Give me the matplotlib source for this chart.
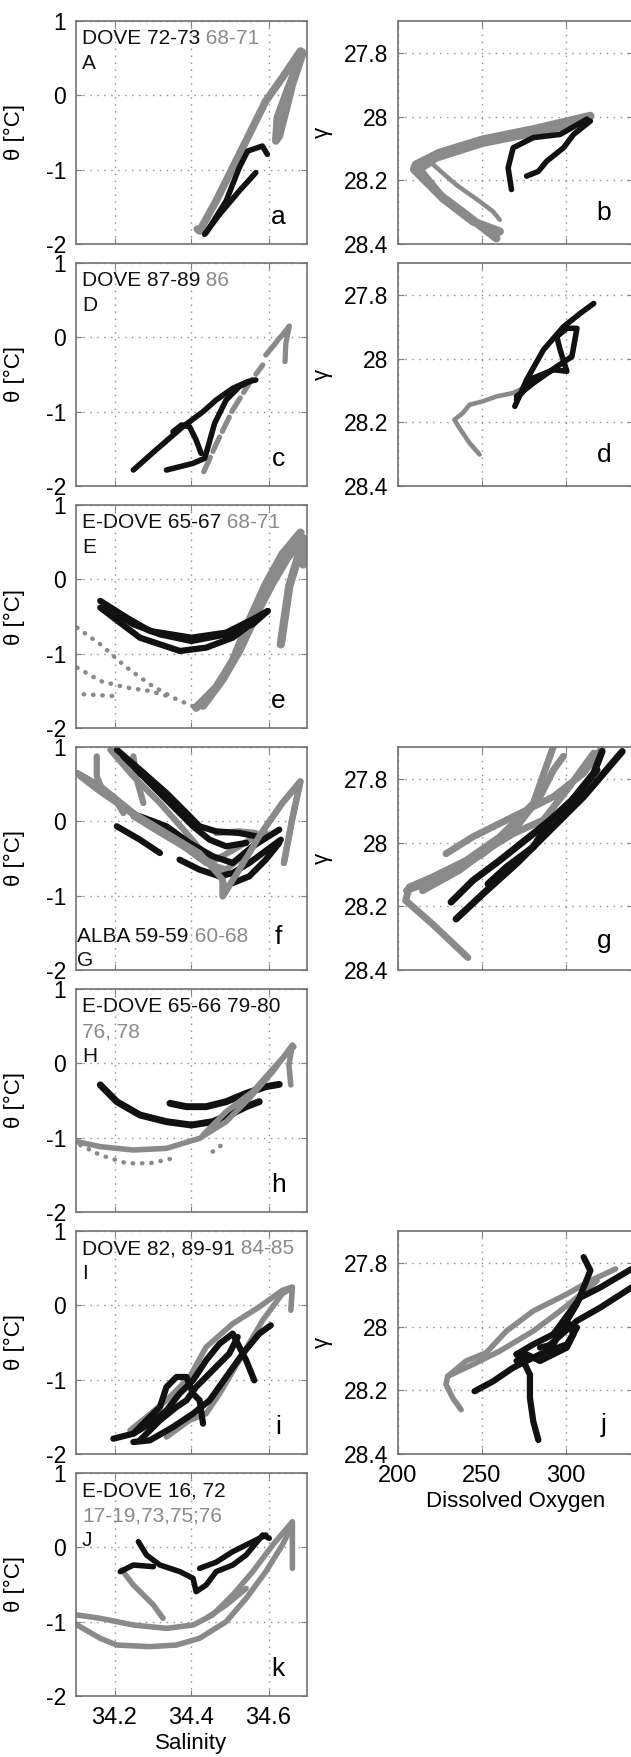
import numpy as np
import matplotlib
matplotlib.use('Agg')
from matplotlib import pyplot as plt

plt.rcParams['font.family'] = ['Liberation Sans', 'DejaVu Sans']
plt.rcParams['axes.unicode_minus'] = False

BLACK = '#111111'
GRAY = '#8a8a8a'

# ---- data: (salinity, theta) or (oxygen, gamma) traces ----
# panel a
a_black = [([34.434, 34.473, 34.524, 34.567], [-1.87, -1.6, -1.287, -1.04]),
           ([34.438, 34.490, 34.524, 34.546, 34.584, 34.597], [-1.85, -1.42, -0.973, -0.749, -0.682, -0.794])]
a_gray = [([34.415, 34.421, 34.464, 34.507, 34.550, 34.593, 34.636, 34.683, 34.688, 34.662, 34.645, 34.628, 34.619, 34.623, 34.645, 34.675, 34.688],
           [-1.80, -1.825, -1.42, -0.973, -0.525, -0.076, 0.238, 0.596, 0.55, 0.148, -0.21, -0.55, -0.614, -0.30, 0.013, 0.417, 0.58])]
# panel b
b_black = [([312.6, 296.6, 280.6, 268.6, 265.6, 267.6], [28.008, 28.056, 28.066, 28.098, 28.161, 28.229]),
           ([314.6, 304.6, 298.6, 288.6, 283.6, 276.6], [28.014, 28.056, 28.098, 28.14, 28.172, 28.187])]
b_gray = [([314.6, 280.6, 250.6, 224.6, 210.6, 209.6, 224.6, 240.6, 258.6],
           [27.998, 28.04, 28.072, 28.114, 28.151, 28.166, 28.245, 28.308, 28.382]),
          ([312.6, 280.6, 250.6, 222.6, 212.6, 226.6, 244.6, 260.6],
           [28.014, 28.051, 28.082, 28.129, 28.166, 28.256, 28.329, 28.361])]
b_gray_thin = [([218.6, 234.6, 248.6, 256.6, 260.6], [28.14, 28.214, 28.266, 28.298, 28.324])]
# panel c
c_black = [([34.249, 34.30, 34.378, 34.43, 34.464, 34.507, 34.546, 34.567], [-1.785, -1.55, -1.20, -1.0, -0.843, -0.686, -0.596, -0.574]),
           ([34.335, 34.370, 34.404, 34.434, 34.443, 34.460, 34.490, 34.524, 34.550], [-1.785, -1.74, -1.695, -1.628, -1.471, -1.157, -0.843, -0.664, -0.596]),
           ([34.352, 34.374, 34.395, 34.412, 34.425], [-1.269, -1.179, -1.202, -1.381, -1.561])]
c_gray_dash = [([34.432, 34.465, 34.507, 34.550, 34.585], [-1.807, -1.426, -0.978, -0.619, -0.372])]
c_gray = [([34.593, 34.611, 34.628, 34.636, 34.654, 34.645, 34.643], [-0.238, -0.126, -0.013, 0.031, 0.152, -0.081, -0.327])]
# panel d
d_black = [([269.6, 276.6, 286.6, 298.6, 308.6, 316.6], [28.15, 28.067, 27.973, 27.9, 27.858, 27.827]),
           ([270.6, 280.6, 292.6, 300.6, 296.6, 294.6, 300.6, 306.6, 303.6, 294.6, 280.6, 270.6],
            [28.129, 28.061, 28.035, 28.04, 27.973, 27.931, 27.905, 27.905, 27.994, 28.025, 28.077, 28.119])]
d_gray = [([302.6, 292.6, 280.6, 268.6, 258.6, 250.6, 242.6, 238.6, 233.6, 236.6, 242.6, 248.6],
           [27.994, 28.035, 28.077, 28.108, 28.119, 28.134, 28.145, 28.171, 28.192, 28.218, 28.265, 28.301])]
# panel e
e_black = [([34.163, 34.232, 34.292, 34.4, 34.49, 34.559, 34.598], [-0.29, -0.516, -0.695, -0.785, -0.717, -0.538, -0.426]),
           ([34.163, 34.266, 34.37, 34.438, 34.507, 34.542], [-0.381, -0.785, -0.964, -0.919, -0.785, -0.65]),
           ([34.172, 34.249, 34.318, 34.4, 34.49, 34.559, 34.598], [-0.359, -0.605, -0.74, -0.83, -0.74, -0.605, -0.426])]
e_gray = [([34.412, 34.464, 34.507, 34.55, 34.593, 34.636, 34.683, 34.679, 34.654, 34.632],
           [-1.726, -1.457, -1.099, -0.56, -0.067, 0.336, 0.628, 0.336, -0.09, -0.874]),
          ([34.43, 34.48, 34.525, 34.57, 34.61, 34.65, 34.69, 34.69],
           [-1.70, -1.35, -0.95, -0.45, -0.05, 0.30, 0.55, 0.20])]
e_gray_dots = [([34.103, 34.163, 34.232, 34.292, 34.352, 34.412], [-0.65, -0.874, -1.188, -1.413, -1.592, -1.726]),
               ([34.103, 34.163, 34.232, 34.292, 34.352], [-1.188, -1.368, -1.457, -1.502, -1.592]),
               ([34.12, 34.197], [-1.547, -1.57])]
# panel f
f_black = [([34.206, 34.266, 34.335, 34.387, 34.421, 34.464, 34.524, 34.567], [0.964, 0.695, 0.381, 0.112, -0.067, -0.135, -0.157, -0.2]),
           ([34.223, 34.283, 34.352, 34.404, 34.447, 34.49, 34.542], [0.874, 0.56, 0.202, -0.067, -0.247, -0.336, -0.291]),
           ([34.206, 34.266, 34.318], [-0.067, -0.247, -0.426]),
           ([34.266, 34.335, 34.395, 34.455, 34.507, 34.559, 34.628], [0.067, -0.067, -0.291, -0.47, -0.56, -0.336, -0.112]),
           ([34.369, 34.421, 34.473, 34.507, 34.55, 34.632], [-0.516, -0.65, -0.74, -0.695, -0.56, -0.247]),
           ([34.507, 34.55, 34.593, 34.628], [-0.83, -0.74, -0.516, -0.291])]
f_gray = [([34.103, 34.163, 34.249, 34.335, 34.421, 34.481, 34.481, 34.524, 34.576, 34.636, 34.683, 34.662, 34.64],
           [0.65, 0.471, 0.112, -0.157, -0.426, -0.785, -1.009, -0.65, -0.2, 0.247, 0.538, 0.04, -0.56]),
          ([34.189, 34.249, 34.318, 34.387, 34.438, 34.473, 34.49], [0.964, 0.605, 0.247, -0.157, -0.47, -0.695, -0.919]),
          ([34.111, 34.163, 34.206, 34.292, 34.378, 34.438, 34.49, 34.542, 34.593], [0.605, 0.40, 0.247, -0.067, -0.336, -0.56, -0.65, -0.426, -0.157]),
          ([34.249, 34.335, 34.404, 34.464, 34.524, 34.567], [0.067, -0.202, -0.381, -0.516, -0.336, -0.2]),
          ([34.154, 34.154, 34.172, 34.197, 34.223], [0.874, 0.605, 0.381, 0.336, 0.112]),
          ([34.249, 34.258, 34.275], [0.874, 0.56, 0.247]),
          ([34.464, 34.524, 34.567], [-0.157, -0.135, -0.157])]
# panel g
g_black = [([231.6, 244.6, 260.6, 280.6, 300.6, 316.6, 321.6], [28.187, 28.119, 28.056, 27.972, 27.887, 27.782, 27.714]),
           ([234.6, 250.6, 270.6, 290.6, 310.6, 333.6], [28.24, 28.161, 28.066, 27.961, 27.856, 27.714]),
           ([253.6, 264.6, 280.6, 290.6, 305.0, 318.6], [28.13, 28.077, 28.014, 27.93, 27.86, 27.772])]
g_gray = [([241.6, 220.6, 204.6, 206.6, 220.6, 240.6, 260.6, 280.6, 292.6], [28.361, 28.256, 28.182, 28.14, 28.108, 28.056, 27.982, 27.877, 27.698]),
          ([205.0, 230.6, 250.6, 270.6, 284.6, 292.6, 298.6], [28.151, 28.099, 28.035, 27.951, 27.856, 27.772, 27.729]),
          ([228.6, 244.6, 260.6, 276.6, 292.6, 310.6, 321.6], [28.035, 27.982, 27.94, 27.898, 27.856, 27.782, 27.703]),
          ([214.6, 236.6, 252.6, 268.6, 286.6, 300.6, 316.6], [28.151, 28.087, 28.024, 27.972, 27.929, 27.835, 27.719])]
# panel h
h_black = [([34.163, 34.206, 34.266, 34.335, 34.4, 34.455, 34.507, 34.542, 34.576], [-0.29, -0.516, -0.695, -0.785, -0.83, -0.785, -0.673, -0.583, -0.516]),
           ([34.344, 34.387, 34.438, 34.49, 34.542, 34.593, 34.628], [-0.538, -0.583, -0.583, -0.516, -0.404, -0.314, -0.283])]
h_gray = [([34.103, 34.163, 34.249, 34.335, 34.421, 34.49, 34.55, 34.611, 34.662, 34.653, 34.658],
           [-1.054, -1.121, -1.166, -1.144, -1.009, -0.785, -0.471, -0.112, 0.247, -0.022, -0.291]),
          ([34.43, 34.49, 34.559, 34.628, 34.666], [-0.964, -0.65, -0.381, 0.022, 0.224])]
h_gray_dots = [([34.111, 34.163, 34.232, 34.292, 34.352], [-1.099, -1.233, -1.345, -1.345, -1.278]),
               ([34.455, 34.49], [-1.188, -1.054])]
# panel i
i_black = [([34.197, 34.249, 34.292, 34.335, 34.369, 34.404, 34.438, 34.473, 34.507, 34.542, 34.563],
            [-1.794, -1.726, -1.592, -1.413, -1.188, -1.009, -0.74, -0.516, -0.381, -0.74, -1.009]),
           ([34.249, 34.292, 34.352, 34.404, 34.447, 34.49, 34.533, 34.576, 34.606],
            [-1.839, -1.816, -1.637, -1.457, -1.278, -0.964, -0.65, -0.381, -0.269]),
           ([34.249, 34.283, 34.318, 34.335, 34.361, 34.387, 34.404, 34.421, 34.43],
            [-1.726, -1.547, -1.368, -1.099, -0.964, -0.964, -1.188, -1.278, -1.592]),
           ([34.266, 34.318, 34.361, 34.387, 34.412, 34.455, 34.498, 34.52],
            [-1.816, -1.547, -1.368, -1.278, -1.099, -0.874, -0.65, -0.426])]
i_gray = [([34.24, 34.283, 34.335, 34.395, 34.438, 34.507, 34.576, 34.636, 34.662, 34.658],
           [-1.682, -1.503, -1.278, -0.964, -0.561, -0.247, -0.022, 0.202, 0.247, -0.067]),
          ([34.335, 34.395, 34.438, 34.473, 34.524, 34.585, 34.636, 34.662],
           [-1.771, -1.547, -1.457, -1.188, -0.74, -0.2, 0.157, 0.236])]
# panel j
j_black = [([245.6, 256.6, 268.6, 284.6, 300.6, 306.6], [28.203, 28.172, 28.129, 28.087, 28.056, 28.003]),
           ([283.6, 280.6, 278.6, 278.6, 274.6, 270.6], [28.356, 28.298, 28.224, 28.151, 28.108, 28.087]),
           ([270.6, 280.6, 292.6, 300.6, 306.6, 310.6, 314.6, 310.6], [28.087, 28.056, 28.024, 27.982, 27.929, 27.877, 27.824, 27.782]),
           ([292.6, 308.6, 320.6, 339.2], [28.024, 27.909, 27.877, 27.819]),
           ([288.6, 306.6, 320.6, 339.2], [28.066, 27.982, 27.94, 27.877]),
           ([270.6, 276.6, 284.6, 292.6, 300.6, 304.6, 300.6, 296.6, 292.6, 284.6],
            [28.108, 28.087, 28.108, 28.087, 28.066, 28.024, 27.982, 28.014, 28.056, 28.066])]
j_gray = [([237.6, 232.6, 228.6, 229.6, 240.6, 252.6, 264.6, 280.6, 300.6, 314.6, 329.6],
           [28.261, 28.224, 28.182, 28.156, 28.108, 28.082, 28.014, 27.951, 27.898, 27.856, 27.819]),
          ([229.6, 244.6, 260.6, 280.6, 296.6, 306.6, 318.6], [28.156, 28.119, 28.077, 28.014, 27.951, 27.909, 27.856])]
# panel k
k_black = [([34.262, 34.283, 34.318, 34.37, 34.404, 34.412, 34.438, 34.464, 34.507, 34.542, 34.585, 34.602],
            [0.076, -0.103, -0.238, -0.327, -0.417, -0.596, -0.507, -0.327, -0.238, -0.103, 0.166, 0.121]),
           ([34.215, 34.249, 34.301], [-0.327, -0.238, -0.26]),
           ([34.421, 34.464, 34.507, 34.559, 34.593], [-0.283, -0.2, -0.058, 0.076, 0.166])]
k_gray = [([34.219, 34.249, 34.275, 34.301, 34.326], [-0.305, -0.507, -0.641, -0.776, -0.955]),
          ([34.103, 34.163, 34.249, 34.335, 34.404, 34.455, 34.507, 34.559, 34.611, 34.662, 34.662],
           [-0.91, -0.955, -1.045, -1.09, -1.045, -0.91, -0.641, -0.327, 0.031, 0.345, -0.283]),
          ([34.103, 34.163, 34.206, 34.292, 34.361, 34.421, 34.49, 34.542, 34.593, 34.636, 34.662],
           [-1.045, -1.224, -1.314, -1.336, -1.314, -1.224, -1.0, -0.686, -0.327, 0.031, 0.3]),
          ([34.438, 34.49, 34.542], [-0.955, -0.776, -0.552])]

# panel annotations: list of lines, each line a list of (text, color)
labels_A = [[('DOVE 72-73', BLACK), (' 68-71', GRAY)], [('A', BLACK)]]
labels_D = [[('DOVE 87-89', BLACK), (' 86', GRAY)], [('D', BLACK)]]
labels_E = [[('E-DOVE 65-67', BLACK), (' 68-71', GRAY)], [('E', BLACK)]]
labels_G = [[('ALBA 59-59', BLACK), (' 60-68', GRAY)], [('G', BLACK)]]
labels_H = [[('E-DOVE 65-66 79-80', BLACK)], [('76, 78', GRAY)], [('H', BLACK)]]
labels_I = [[('DOVE 82, 89-91', BLACK), (' 84-85', GRAY)], [('I', BLACK)]]
labels_J = [[('E-DOVE 16, 72', BLACK)], [('17-19,73,75;76', GRAY)], [('J', BLACK)]]

W, H = 631, 1757
fig = plt.figure(figsize=(W / 100, H / 100), dpi=100)

LW = 4.0


def frame(ax):
    for s in ax.spines.values():
        s.set_color('0.45')
        s.set_linewidth(1.2)
    ax.tick_params(direction='in', length=4, width=0.8, color='0.5',
                   top=True, right=True, labelsize=16.5, pad=7)
    ax.grid(True, linestyle=(0, (1, 4)), color='0.55', linewidth=1.0)
    ax.set_axisbelow(True)


def left_axes(row):
    top = 21 + 242 * row
    ax = fig.add_axes([76 / W, 1 - (top + 223) / H, 231 / W, 223 / H])
    ax.set_xlim(34.1, 34.7)
    ax.set_ylim(-2, 1)
    ax.set_xticks([34.2, 34.4, 34.6])
    ax.set_yticks([-2, -1, 0, 1])
    ax.set_yticklabels(['-2', '-1', '0', '1'])
    ax.set_xticklabels([])
    frame(ax)
    ax.set_ylabel('θ [°C]', fontsize=16)
    ax.yaxis.set_label_coords(-0.22, 0.5)
    return ax


def right_axes(row):
    top = 21 + 242 * row
    ax = fig.add_axes([398 / W, 1 - (top + 223) / H, 235 / W, 223 / H])
    ax.set_xlim(200, 340)
    ax.set_ylim(28.4, 27.7)
    ax.set_xticks([200, 250, 300])
    ax.set_yticks([27.8, 28.0, 28.2, 28.4])
    ax.set_yticklabels(['27.8', '28', '28.2', '28.4'])
    ax.set_xticklabels([])
    frame(ax)
    ax.set_ylabel('γ', fontsize=16)
    ax.yaxis.set_label_coords(-0.275, 0.5)
    return ax


def draw(ax, traces, color, lw=LW, ls='-'):
    for xs, ys in traces:
        ax.plot(xs, ys, color=color, lw=lw, ls=ls, solid_capstyle='round',
                solid_joinstyle='round', dash_capstyle='round', clip_on=True)


def headline(ax, lines, y0=0.962, x0=0.026, step=0.108):
    for n, parts in enumerate(lines):
        t = ax.text(x0, y0 - n * step, parts[0][0], color=parts[0][1],
                    transform=ax.transAxes, fontsize=15, va='top', ha='left')
        for txt, col in parts[1:]:
            t = ax.annotate(txt, xy=(1, 0), xycoords=t, color=col,
                            fontsize=15, va='bottom', ha='left')


def letter(ax, s, x=0.875, y=0.12):
    ax.text(x, y, s, transform=ax.transAxes, fontsize=19, ha='center', va='center')


# row 0
ax = left_axes(0)
draw(ax, a_gray, GRAY, lw=5.5)
draw(ax, a_black, BLACK)
headline(ax, labels_A)
letter(ax, 'a')
ax = right_axes(0)
draw(ax, b_gray, GRAY, lw=6)
draw(ax, b_gray_thin, GRAY, lw=3.2)
draw(ax, b_black, BLACK)
letter(ax, 'b', 0.877, 0.14)

# row 1
ax = left_axes(1)
draw(ax, c_gray_dash, GRAY, lw=3.8, ls=(0, (3, 1.2)))
draw(ax, c_gray, GRAY, lw=3.8)
draw(ax, c_black, BLACK)
headline(ax, labels_D)
letter(ax, 'c')
ax = right_axes(1)
draw(ax, d_gray, GRAY, lw=3.3)
draw(ax, d_black, BLACK)
letter(ax, 'd', 0.877, 0.14)

# row 2
ax = left_axes(2)
draw(ax, e_gray_dots, GRAY, lw=3.2, ls=(0, (0.1, 2.0)))
draw(ax, e_gray, GRAY, lw=6)
draw(ax, e_black, BLACK, lw=4.5)
headline(ax, labels_E)
letter(ax, 'e')

# row 3
ax = left_axes(3)
draw(ax, f_gray, GRAY, lw=4.5)
draw(ax, f_black, BLACK, lw=4.5)
draw(ax, f_gray[:1], GRAY, lw=4.5)
headline(ax, labels_G, y0=0.195, x0=0.005)
letter(ax, 'f', 0.875, 0.15)
ax = right_axes(3)
draw(ax, g_gray, GRAY, lw=5)
draw(ax, g_black, BLACK, lw=5)
letter(ax, 'g', 0.877, 0.13)

# row 4
ax = left_axes(4)
draw(ax, h_gray_dots, GRAY, lw=3.2, ls=(0, (0.1, 2.0)))
draw(ax, h_black, BLACK, lw=5)
draw(ax, h_gray, GRAY)
headline(ax, labels_H, y0=0.965, step=0.113)
letter(ax, 'h')

# row 5
ax = left_axes(5)
draw(ax, i_gray, GRAY)
draw(ax, i_black, BLACK, lw=4.5)
headline(ax, labels_I)
letter(ax, 'i')
ax = right_axes(5)
draw(ax, j_gray, GRAY)
draw(ax, j_black, BLACK, lw=4.5)
letter(ax, 'j', 0.877, 0.13)
ax.set_xticklabels(['200', '250', '300'])
ax.tick_params(axis='x', pad=8, labelsize=17)
ax.set_xlabel('Dissolved Oxygen', fontsize=16)
ax.xaxis.set_label_coords(0.5, -0.165)

# row 6
ax = left_axes(6)
draw(ax, k_gray, GRAY)
draw(ax, k_black, BLACK)
headline(ax, labels_J, y0=0.962, step=0.11)
letter(ax, 'k')
ax.set_xticklabels(['34.2', '34.4', '34.6'])
ax.tick_params(axis='x', pad=8, labelsize=17)
ax.set_xlabel('Salinity', fontsize=16)
ax.xaxis.set_label_coords(0.5, -0.165)

fig.savefig('out.png', dpi=100)
